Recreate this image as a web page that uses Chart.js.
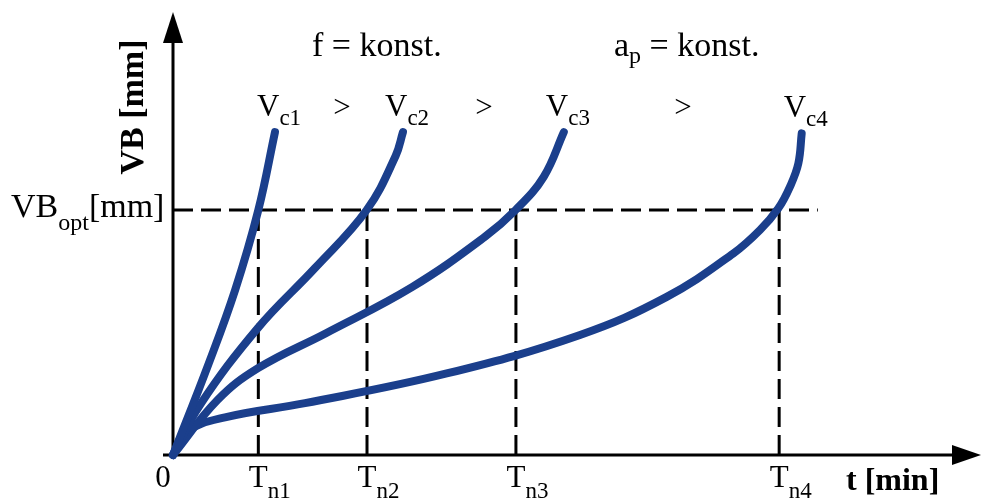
<!DOCTYPE html>
<html>
<head>
<meta charset="utf-8">
<script src="https://cdn.jsdelivr.net/npm/chart.js@4/dist/chart.umd.min.js"></script>
<style>
  html, body { margin: 0; padding: 0; background: #fff; }
  canvas { display: block; }
</style>
</head>
<body>
<canvas id="wear" width="982" height="501"></canvas>
<script>
// wear curves VB(t) for four cutting speeds, vc1 > vc2 > vc3 > vc4
const curveVc1 = [
  { x: 0, y: 0 }, { x: 4.36, y: 20.3 }, { x: 7.71, y: 37.2 }, { x: 10.6, y: 55.3 }, { x: 12.67, y: 72.9 },
];
const curveVc2 = [
  { x: 0, y: 0 }, { x: 3.35, y: 11.3 }, { x: 10.56, y: 28.7 }, { x: 17.64, y: 42.2 },
  { x: 24.06, y: 55.3 }, { x: 27.65, y: 67.5 }, { x: 28.57, y: 72.9 },
];
const curveVc3 = [
  { x: 0, y: 0 }, { x: 5.53, y: 12.4 }, { x: 10.56, y: 19.6 }, { x: 19.0, y: 27.5 }, { x: 29.69, y: 37.9 },
  { x: 38.71, y: 49.2 }, { x: 42.56, y: 55.3 }, { x: 46.05, y: 62.8 }, { x: 48.55, y: 72.9 },
];
const curveVc4 = [
  { x: 0, y: 0 }, { x: 1.61, y: 5.2 }, { x: 6.46, y: 8.5 }, { x: 16.4, y: 11.7 }, { x: 34.0, y: 18.4 },
  { x: 50.56, y: 27.1 }, { x: 61.33, y: 35.7 }, { x: 69.6, y: 45.5 }, { x: 72.92, y: 50.8 },
  { x: 75.2, y: 55.7 }, { x: 76.65, y: 60.6 }, { x: 77.68, y: 65.8 }, { x: 78.1, y: 72.6 },
];

// tool life at VB_opt for each speed, and the wear limit itself
const toolLife = [10.6, 24.1, 42.6, 75.3];
const toolLifeSubs = ['n1', 'n2', 'n3', 'n4'];
const speedSubs = ['c1', 'c2', 'c3', 'c4'];
const vbOpt = 55.3;
const vbOptLineEnd = 80.1;

const BLUE = '#1b3f8c';
const SERIF = '"Liberation Serif", "Times New Roman", serif';

const curves = [curveVc1, curveVc2, curveVc3, curveVc4];

const datasets = curves.map(data => ({
  data,
  showLine: true,
  borderColor: BLUE,
  borderWidth: 8,
  borderCapStyle: 'round',
  borderJoinStyle: 'round',
  tension: 0.4,
  pointRadius: 0,
  clip: false,
}));

const dashed = {
  showLine: true,
  borderColor: '#000',
  borderWidth: 3,
  borderDash: [20, 8],
  pointRadius: 0,
  clip: false,
};
datasets.push({ ...dashed, data: [{ x: 0, y: vbOpt }, { x: vbOptLineEnd, y: vbOpt }] });
toolLife.forEach(t => datasets.push({ ...dashed, data: [{ x: t, y: 0 }, { x: t, y: vbOpt }] }));

// main text with a lowered subscript, returns the right edge
const subText = (ctx, main, sub, x, y, drop, size, subSize) => {
  ctx.textAlign = 'left';
  ctx.font = `${size}px ${SERIF}`;
  const w = ctx.measureText(main).width;
  ctx.fillText(main, x, y);
  ctx.font = `${subSize}px ${SERIF}`;
  ctx.fillText(sub, x + w, y + drop);
  return x + w + ctx.measureText(sub).width;
};

const axesPlugin = {
  id: 'axes',
  beforeDatasetsDraw(chart) {
    const { ctx, chartArea: a } = chart;
    ctx.save();
    ctx.strokeStyle = '#000';
    ctx.fillStyle = '#000';
    ctx.lineWidth = 3;
    ctx.beginPath();
    ctx.moveTo(a.left, a.bottom);
    ctx.lineTo(a.left, a.top + 20);
    ctx.moveTo(a.left - 10, a.bottom);
    ctx.lineTo(a.right - 20, a.bottom);
    ctx.stroke();
    ctx.beginPath();
    ctx.moveTo(a.left, a.top);
    ctx.lineTo(a.left - 10, a.top + 31);
    ctx.lineTo(a.left + 10, a.top + 31);
    ctx.closePath();
    ctx.fill();
    ctx.beginPath();
    ctx.moveTo(a.right + 3, a.bottom);
    ctx.lineTo(a.right - 26, a.bottom - 10);
    ctx.lineTo(a.right - 26, a.bottom + 10);
    ctx.closePath();
    ctx.fill();
    ctx.restore();
  },
  afterDraw(chart) {
    const { ctx, chartArea: a } = chart;
    const xs = chart.scales.x;
    const ys = chart.scales.y;
    ctx.save();
    ctx.fillStyle = '#000';
    ctx.textBaseline = 'alphabetic';

    // axis titles
    ctx.save();
    ctx.font = `bold 34px ${SERIF}`;
    ctx.translate(a.left - 30, 107);
    ctx.rotate(-Math.PI / 2);
    ctx.textAlign = 'center';
    ctx.fillText('VB [mm]', 0, 0);
    ctx.restore();
    ctx.textAlign = 'left';
    ctx.font = `bold 32px ${SERIF}`;
    ctx.fillText('t [min]', 846, a.bottom + 35);

    // VB_opt label at the dashed line
    const yOpt = ys.getPixelForValue(vbOpt);
    const end = subText(ctx, 'VB', 'opt', 11, yOpt + 7, 13, 34, 24);
    ctx.font = `34px ${SERIF}`;
    ctx.fillText('[mm]', end, yOpt + 7);

    // origin and tool life labels
    ctx.font = `31px ${SERIF}`;
    ctx.textAlign = 'center';
    ctx.fillText('0', a.left - 10, a.bottom + 32);
    toolLife.forEach((t, i) => {
      const px = xs.getPixelForValue(t);
      ctx.font = `31px ${SERIF}`;
      const w = ctx.measureText('T').width;
      subText(ctx, 'T', toolLifeSubs[i], px - w / 2, a.bottom + 32, 11, 31, 23);
    });

    // speed labels above curve tops
    curves.forEach((c, i) => {
      const top = c[c.length - 1];
      const px = xs.getPixelForValue(top.x);
      const py = ys.getPixelForValue(top.y);
      subText(ctx, 'V', speedSubs[i], px - 18, py - 16, 9, 31, 23);
    });
    ctx.font = `31px ${SERIF}`;
    ctx.textAlign = 'center';
    [342, 484, 683].forEach(x => ctx.fillText('>', x, 117));

    // constant cutting parameters
    ctx.textAlign = 'left';
    ctx.font = `34px ${SERIF}`;
    ctx.fillText('f = konst.', 312, 56);
    const ap = subText(ctx, 'a', 'p', 614, 56, 7, 34, 24);
    ctx.font = `34px ${SERIF}`;
    ctx.fillText(' = konst.', ap, 56);
    ctx.restore();
  },
};

new Chart(document.getElementById('wear'), {
  type: 'scatter',
  data: { datasets },
  options: {
    responsive: false,
    animation: false,
    events: [],
    layout: { padding: { left: 173, right: 4, top: 12, bottom: 46 } },
    plugins: { legend: { display: false }, tooltip: { enabled: false } },
    scales: {
      x: { type: 'linear', min: 0, max: 100, display: false },
      y: { type: 'linear', min: 0, max: 100, display: false },
    },
  },
  plugins: [axesPlugin],
});
</script>
</body>
</html>
